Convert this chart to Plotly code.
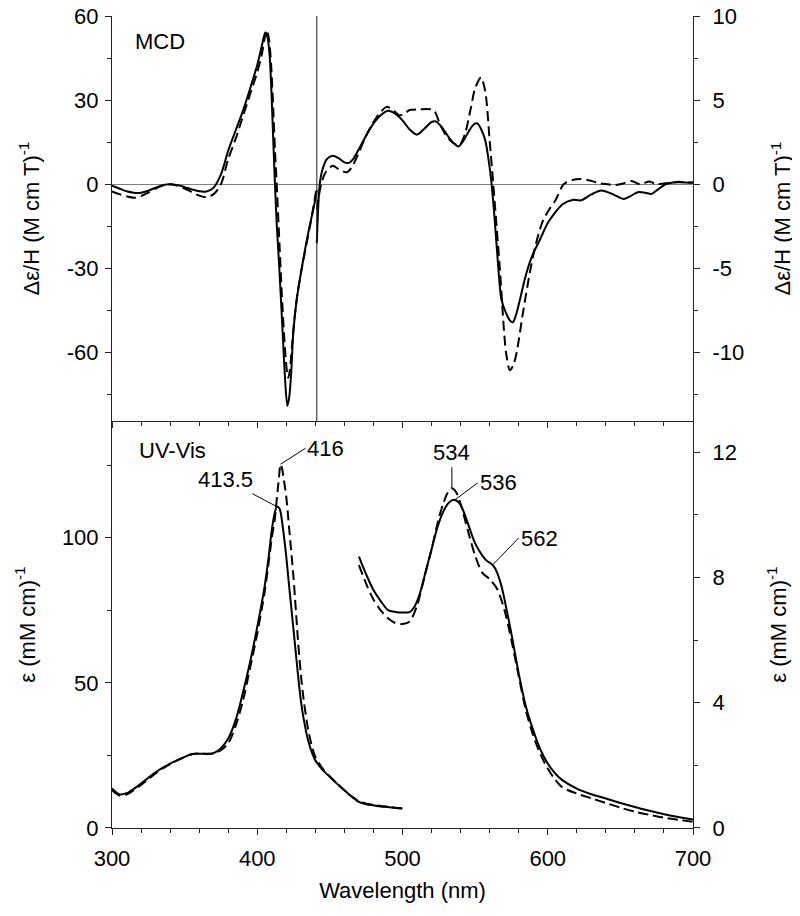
import plotly.graph_objects as go

# ---------------- DATA ----------------
# MCD, left part (left axis, Δε/H)
mcd_left_wl = [300, 305, 310, 315, 320, 325, 330, 335, 340, 345, 350, 355, 360, 365, 370, 375, 380,
               385, 390, 395, 400, 403, 405.5, 407, 408.5, 410, 411, 412.2, 413.5, 415.2, 417.5, 419,
               420.7, 422, 423.5, 424.8, 427.1, 430.6, 435, 439.8, 441]
mcd_left_solid = [-0.5, -1.5, -2.5, -3.0, -3.0, -2.3, -1.2, -0.3, 0.0, -0.3, -1.0, -1.8, -2.5, -2.6, -1.2,
                  3.5, 12, 19, 26, 34, 42.5, 49, 54, 52.5, 46, 30, 16, 0, -15, -30, -53, -68,
                  -79, -76, -66, -53, -41.4, -30, -17.6, -5.8, -2]
mcd_left_dash_wl = [300, 305, 310, 315, 320, 325, 330, 335, 340, 345, 350, 355, 360, 365, 370, 375, 380,
                    385, 390, 395, 400, 403, 406.5, 408, 409.5, 411, 412.2, 413.4, 415, 417, 419, 420.5,
                    421.4, 422.5, 424, 426, 428, 431, 434, 437, 440, 441]
mcd_left_dash = [-2.5, -3.5, -4.3, -4.8, -4.2, -3.0, -1.5, -0.4, 0.0, -0.5, -1.5, -2.8, -4.0, -4.6, -3.5,
                 0.0, 9, 16, 24, 32, 40, 46, 55, 52, 43, 27, 12, 0, -18, -40, -58, -67,
                 -69, -66, -57, -46, -38, -29, -21, -13, -4, -1]

# MCD, right part (right axis, Δε/H)
mcd_right_wl = [441, 443, 445, 448, 452, 456, 460, 463, 466, 470, 475, 480, 485, 490, 495, 500, 505, 510,
                515, 520, 523, 527, 531, 535, 538.5, 542, 546, 549, 551.5, 554, 557, 559, 561, 563, 566,
                568, 571, 574, 576, 578, 581, 584, 587, 590, 594, 600, 604, 610, 617, 623, 630, 637, 645,
                652, 657, 662, 667, 671.5, 676, 681, 686, 690, 695, 700]
mcd_right_solid = [-3.5, 0.0, 0.9, 1.5, 1.7, 1.55, 1.3, 1.27, 1.5, 2.1, 2.9, 3.6, 4.1, 4.37, 4.2, 3.8, 3.25,
                   2.95, 3.3, 3.7, 3.74, 3.4, 2.9, 2.45, 2.25, 2.6, 3.2, 3.55, 3.62, 3.3, 2.6, 1.6, 0.3,
                   -1.6, -5.0, -6.8, -7.6, -8.1, -8.2, -7.8, -6.8, -5.7, -4.8, -4.1, -3.4, -2.3, -1.8, -1.2,
                   -0.93, -0.95, -0.6, -0.37, -0.6, -0.87, -0.7, -0.47, -0.5, -0.57, -0.3, 0.0, 0.1, 0.15,
                   0.1, 0.1]
mcd_right_dash_wl = [441, 444, 447, 452, 456, 461.5, 465, 470, 475, 480, 485, 489, 493, 498, 502, 505, 512,
                     519, 522, 525.8, 530, 535, 539, 543, 547, 550, 554, 557, 560, 562.5, 567, 571.3, 574,
                     576.5, 578.6, 583, 588.2, 592, 596.5, 601, 605.2, 611, 617, 622.6, 630, 636, 641, 646,
                     652, 657.7, 663.5, 670, 675, 680, 690, 700]
mcd_right_dash = [-1.5, 0.0, 0.7, 1.1, 0.9, 0.71, 1.0, 1.9, 2.9, 3.7, 4.3, 4.6, 4.45, 4.1, 4.25, 4.41, 4.45,
                  4.46, 4.35, 3.58, 2.9, 2.45, 2.3, 3.0, 4.5, 5.7, 6.35, 5.5, 2.6, 0.0, -5.0, -10.0, -11.05,
                  -10.7, -10.0, -7.6, -5.0, -3.5, -2.2, -1.5, -0.97, 0.0, 0.25, 0.32, 0.2, 0.05, 0.0, -0.05,
                  0.05, 0.2, 0.0, 0.16, 0.0, 0.05, 0.12, 0.1]

# UV-Vis, left part (left axis, ε)
uv_left_wl = [300, 305, 310, 315, 320, 325, 330, 335, 340, 345, 350, 355, 360, 365, 370, 375, 380, 385,
              390, 395, 400, 405, 408, 410, 412, 413.5, 415, 416, 418, 420, 422, 425, 428, 430, 432, 435,
              438, 440, 445, 450, 455, 460, 465, 470, 475, 480, 485, 490, 495, 500]
uv_left_solid = [13.6, 11.6, 12.0, 13.5, 15.3, 17.3, 19.2, 20.8, 22.2, 23.4, 24.5, 25.5, 25.6, 25.5, 25.8,
                 27.5, 30.8, 37, 46.3, 57, 69.3, 83, 94, 102.6, 108.5, 110.7, 110.3, 109, 102, 93.4, 83,
                 68.2, 53, 44, 37.5, 30.2, 25.5, 23.3, 20, 17.6, 15.2, 13, 10.8, 9.0, 8.2, 7.8, 7.4, 7.2,
                 6.9, 6.7]
uv_left_dash_wl = [300, 305, 310, 315, 320, 325, 330, 335, 340, 345, 350, 355, 360, 365, 370, 375, 380, 385,
                   390, 395, 400, 405, 408, 410, 412, 413, 414, 415, 416, 417, 418, 420, 422, 425, 428, 430,
                   432, 435, 438, 440, 445, 450, 455, 460, 465, 470, 475, 480, 485, 490, 495, 500]
uv_left_dash = [13.0, 11.2, 11.5, 13.0, 14.8, 16.8, 18.8, 20.5, 22.0, 23.3, 24.4, 25.4, 25.7, 25.6, 25.7,
                26.8, 29.2, 35, 43.5, 55, 67, 81, 92, 100, 106, 111, 116, 121, 125.3, 124, 121, 114, 103,
                86, 65, 53, 44, 34, 27.5, 24.5, 20.5, 17.8, 15.3, 13, 10.9, 9.2, 8.4, 8.0, 7.6, 7.3, 7.0,
                6.8]

# UV-Vis, right part (right axis, ε)
uv_right_wl = [470, 475, 480, 485, 490, 495, 500, 505, 508, 512, 516, 520, 524, 528, 532, 536, 540, 545,
               550, 555, 558, 560, 562, 564, 566, 568, 570, 575, 580, 585, 590, 595, 600, 605, 610, 620,
               630, 640, 650, 660, 670, 680, 690, 700]
uv_right_solid = [8.67, 8.1, 7.6, 7.25, 6.96, 6.9, 6.88, 6.9, 7.05, 7.5, 8.2, 8.9, 9.6, 10.1, 10.4, 10.48,
                  10.32, 9.73, 9.09, 8.7, 8.54, 8.48, 8.4, 8.27, 8.05, 7.75, 7.35, 6.2, 4.94, 3.87, 3.12,
                  2.5, 2.06, 1.75, 1.53, 1.26, 1.08, 0.94, 0.8, 0.67, 0.55, 0.44, 0.35, 0.27]
uv_right_dash_wl = [470, 475, 480, 485, 490, 495, 500, 505, 510, 515, 520, 525, 528, 531, 534, 537, 540,
                    545, 550, 555, 560, 565, 570, 575, 580, 585, 590, 595, 600, 605, 610, 620, 630, 640,
                    650, 660, 670, 680, 690, 700]
uv_right_dash = [8.4, 7.8, 7.3, 6.95, 6.7, 6.55, 6.52, 6.6, 7.1, 8.0, 8.9, 9.9, 10.35, 10.7, 10.85, 10.72,
                 10.35, 9.5, 8.7, 8.15, 7.95, 7.65, 7.0, 6.0, 4.85, 3.75, 2.95, 2.35, 1.9, 1.55, 1.3, 1.1,
                 0.95, 0.8, 0.65, 0.52, 0.42, 0.33, 0.26, 0.2]

split_wl = 441  # wavelength where MCD switches from left to right scale

# tick values
x_ticks = [300, 400, 500, 600, 700]
mcd_left_ticks = [-60, -30, 0, 30, 60]
mcd_right_ticks = [-10, -5, 0, 5, 10]
uv_left_ticks = [0, 50, 100]
uv_right_ticks = [0, 4, 8, 12]

# peak labels
peak_labels = ["416", "413.5", "534", "536", "562"]
peak_wl = [416, 413.5, 534, 536, 562]

# ---------------- FIGURE ----------------
FONT = "Liberation Sans, Arial, sans-serif"
BLACK = "#000000"
AX = "#222222"
LW = 2
DASH = "10px,5px"


def val(xs, ys, x):
    return ys[xs.index(x)]


fig = go.Figure()


def add(x, y, xa, ya, dash=None):
    fig.add_trace(go.Scatter(x=x, y=y, xaxis=xa, yaxis=ya, mode="lines",
                             line=dict(color=BLACK, width=LW, dash=dash, shape="spline", smoothing=0.8),
                             showlegend=False, hoverinfo="skip"))


add(mcd_left_wl, mcd_left_solid, "x2", "y")
add(mcd_left_dash_wl, mcd_left_dash, "x2", "y", DASH)
add(mcd_right_wl, mcd_right_solid, "x2", "y2")
add(mcd_right_dash_wl, mcd_right_dash, "x2", "y2", DASH)
add(uv_left_wl, uv_left_solid, "x", "y3")
add(uv_left_dash_wl, uv_left_dash, "x", "y3", DASH)
add(uv_right_wl, uv_right_solid, "x", "y4")
add(uv_right_dash_wl, uv_right_dash, "x", "y4", DASH)

split = 0.5012
tickfont = dict(family=FONT, size=22, color=BLACK)
common = dict(showgrid=False, showline=True, linecolor=AX, linewidth=1, tickcolor=AX,
              tickfont=tickfont, ticklen=6, tickwidth=1, automargin=False, ticklabeloverflow="allow")

title_font = dict(family=FONT, size=22, color=BLACK)


def tk(vals):
    return dict(tickmode="array", tickvals=vals, ticktext=[str(v) for v in vals])


# the page body adds an 8px offset, so the figure is 8px smaller than the window
fig.update_layout(
    width=792, height=908,
    margin=dict(l=104, r=107, t=8, b=88, autoexpand=False),
    paper_bgcolor="white", plot_bgcolor="white",
    font=dict(family=FONT, size=22, color=BLACK),
    xaxis=dict(**common, **tk(x_ticks), anchor="y3", domain=[0, 1], range=[300, 700],
               ticks="outside", zeroline=False, ticklabelstandoff=5,
               minor=dict(dtick=20, tick0=0, ticks="outside", ticklen=4, tickcolor=AX),
               title=dict(text="Wavelength (nm)", font=title_font, standoff=12)),
    xaxis2=dict(**common, **tk(x_ticks), anchor="y", domain=[0, 1], range=[300, 700],
                ticks="outside", showticklabels=False, zeroline=False,
                minor=dict(dtick=20, tick0=0, ticks="outside", ticklen=4, tickcolor=AX)),
    xaxis3=dict(**common, **tk(x_ticks), anchor="y", overlaying="x2", side="top", range=[300, 700],
                ticks="inside", showticklabels=False, zeroline=False,
                minor=dict(dtick=20, tick0=0, ticks="inside", ticklen=4, tickcolor=AX)),
    yaxis=dict(**common, **tk(mcd_left_ticks), anchor="x2", domain=[split, 1], range=[-84.4, 60],
               ticks="outside", zeroline=True, zerolinecolor="#808080", zerolinewidth=1,
               ticklabelstandoff=2,
               minor=dict(dtick=15, tick0=0, ticks="outside", ticklen=4, tickcolor=AX),
               title=dict(text="Δε/H (M cm T)<sup>-1</sup>", font=title_font, standoff=21)),
    yaxis2=dict(**common, **tk(mcd_right_ticks), anchor="x2", overlaying="y", side="right",
                range=[-14.07, 10], ticks="outside", zeroline=False, ticklabelstandoff=8,
                minor=dict(dtick=2.5, tick0=0, ticks="outside", ticklen=4, tickcolor=AX),
                title=dict(text="Δε/H (M cm T)<sup>-1</sup>", font=title_font, standoff=31)),
    yaxis3=dict(**common, **tk(uv_left_ticks), anchor="x", domain=[0, split], range=[0, 140.2],
                ticks="outside", zeroline=False, ticklabelstandoff=2,
                minor=dict(dtick=25, tick0=0, ticks="outside", ticklen=4, tickcolor=AX),
                title=dict(text="ε (mM cm)<sup>-1</sup>", font=title_font, standoff=20)),
    yaxis4=dict(**common, **tk(uv_right_ticks), anchor="x", overlaying="y3", side="right", range=[0, 13],
                ticks="outside", zeroline=False, ticklabelstandoff=8,
                minor=dict(dtick=2, tick0=0, ticks="outside", ticklen=4, tickcolor=AX),
                title=dict(text="ε (mM cm)<sup>-1</sup>", font=title_font, standoff=34)),
)

# vertical separator in the MCD panel
fig.add_shape(type="line", xref="x2", yref="y domain", x0=split_wl, x1=split_wl, y0=0, y1=1,
              line=dict(color=AX, width=1))

# panel labels
fig.add_annotation(text="MCD", xref="x2 domain", yref="y domain", x=0.036, y=0.938,
                   xanchor="left", yanchor="middle", showarrow=False, font=title_font)
fig.add_annotation(text="UV-Vis", xref="x domain", yref="y3 domain", x=0.0425, y=0.9275,
                   xanchor="left", yanchor="middle", showarrow=False, font=title_font)

arrow = dict(showarrow=True, arrowhead=0, arrowwidth=1, arrowcolor=BLACK, font=title_font)

fig.add_annotation(text=peak_labels[0], x=peak_wl[0], y=val(uv_left_dash_wl, uv_left_dash, 416),
                   xref="x", yref="y3", ax=25, ay=-16, xanchor="left", yanchor="middle", **arrow)
fig.add_annotation(text=peak_labels[1], x=peak_wl[1], y=val(uv_left_wl, uv_left_solid, 413.5),
                   xref="x", yref="y3", ax=-51, ay=-27, **arrow)
fig.add_annotation(text=peak_labels[2], x=peak_wl[2], y=val(uv_right_dash_wl, uv_right_dash, 534),
                   xref="x", yref="y4", ax=0, ay=-21, xanchor="center", yanchor="bottom", **arrow)
fig.add_annotation(text=peak_labels[3], x=peak_wl[3], y=val(uv_right_wl, uv_right_solid, 536),
                   xref="x", yref="y4", ax=23, ay=-17, xanchor="left", yanchor="middle", **arrow)
fig.add_annotation(text=peak_labels[4], x=peak_wl[4], y=val(uv_right_wl, uv_right_solid, 562),
                   xref="x", yref="y4", ax=26, ay=-27, xanchor="left", yanchor="middle", **arrow)

fig.write_html("out.html")
